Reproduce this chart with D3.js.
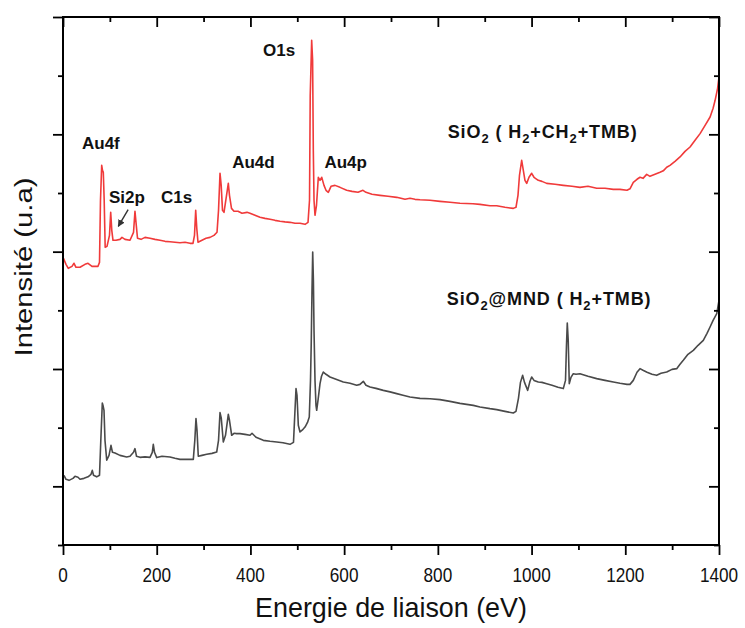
<!DOCTYPE html>
<html><head><meta charset="utf-8">
<script src="https://cdn.jsdelivr.net/npm/d3@7"></script>
<style>body{margin:0;background:#fff}</style>
</head><body><svg id="c" width="745" height="628"></svg>
<script>
// ---- data ----
const xTicks = [0, 200, 400, 600, 800, 1000, 1200, 1400];
const xMinorTicks = [100, 300, 500, 700, 900, 1100, 1300];
const yMajorTicks = [0, 1, 2, 3, 4];
const yMinorTicks = [-0.5, 0.5, 1.5, 2.5, 3.5];

const energyRed = [1,6.4,11.3,19.2,23.5,27.7,36.3,46.9,53.4,61.9,74.7,77.9,80,82.6,84.3,86,87.9,90,93.9,99.2,101.8,104.1,106.7,113.1,121.6,125.9,132.3,143,150.5,153.6,156.4,159,166.5,175,185.7,196.3,207,217.7,228.3,239,249.7,260.4,271,277.4,280.6,283.2,285.5,288.1,296.6,305.2,313.7,322.2,328.7,331.9,335.1,337.6,340.4,343.6,349,352.8,355.3,359.6,364.9,373.5,382,392.7,399.1,409.7,420.4,431.1,441.8,452.4,463.1,473.8,484.4,495.1,505.8,516.5,522.9,526.1,527.6,530.7,532.7,534.2,535.7,537.8,541,544.9,548.5,552.1,557,561.3,566.2,572,580.5,591.2,605.4,616.8,629.6,640.2,646.6,659.4,676.5,693.6,712.2,729.9,740.5,751.2,761.9,783.2,804.6,825.9,847.2,875,889.9,911.3,925.6,943.3,961,966.7,971,974.2,978.9,981.7,985.9,989.6,994.5,1000.2,1005.2,1014.3,1022.2,1032.3,1050,1067.7,1086.2,1103.3,1120.4,1139,1156.7,1174.4,1188.7,1203.6,1210,1217.1,1225,1231.4,1237.8,1245.7,1252.7,1263.4,1274.1,1281.1,1288.4,1295.4,1306.1,1316.8,1327.5,1338.2,1348.9,1359.6,1370.3,1381,1387.4,1391.7,1397,1400];
const intensityRed = [1.943,1.892,1.858,1.875,1.901,1.867,1.867,1.892,1.901,1.875,1.875,1.909,2.438,2.736,2.693,2.676,2.438,2.037,2.045,2.139,2.335,2.182,2.097,2.097,2.105,2.122,2.105,2.097,2.165,2.344,2.224,2.114,2.105,2.122,2.114,2.105,2.097,2.088,2.084,2.080,2.076,2.080,2.071,2.071,2.139,2.352,2.199,2.080,2.097,2.114,2.122,2.139,2.165,2.352,2.668,2.565,2.352,2.335,2.480,2.582,2.480,2.369,2.344,2.344,2.327,2.335,2.327,2.310,2.293,2.284,2.276,2.267,2.259,2.254,2.250,2.242,2.242,2.233,2.250,2.438,3.332,3.801,3.631,2.864,2.438,2.310,2.395,2.634,2.608,2.634,2.565,2.523,2.506,2.557,2.565,2.548,2.523,2.514,2.506,2.523,2.506,2.489,2.480,2.472,2.463,2.446,2.455,2.446,2.442,2.438,2.429,2.421,2.412,2.408,2.403,2.391,2.391,2.378,2.369,2.378,2.480,2.651,2.778,2.710,2.608,2.582,2.634,2.668,2.634,2.608,2.599,2.582,2.574,2.565,2.557,2.548,2.557,2.540,2.540,2.531,2.531,2.523,2.536,2.591,2.617,2.634,2.625,2.659,2.642,2.659,2.676,2.689,2.719,2.736,2.770,2.807,2.855,2.892,2.949,3.006,3.077,3.148,3.222,3.290,3.392,3.488];

const energyGray = [2.1,6.4,12.8,21.3,25.6,32,36.3,44.8,53.4,59.8,62.5,65.1,71.9,77.9,80.7,83.9,85.8,87.5,89.6,93.3,98.2,102.4,105.6,111,121.6,135.9,143,150.5,153.6,156.9,164.3,175,185.7,190.6,192.7,195.3,200,211.3,228.3,239,249.7,262.5,278.1,281.3,283.8,286,288.7,296.6,306.7,318,328,331.9,335.1,337.8,342.1,346.8,352.8,355.3,360,364.9,370.7,377.7,388.4,399.1,403.4,411.9,427.5,441.8,456.1,469.5,484.4,491.9,495.1,497.3,499.4,502.2,505.8,512.2,516.5,521.8,525.6,528.2,529.7,531.4,532.9,534.4,535.7,537.8,539.9,541.4,544.2,548.5,551.7,555.5,561.3,569.8,582.6,598.2,612.5,626.8,633.8,640.9,646.6,655.2,668,683.6,697.9,712.2,725.6,740.5,761.9,783.2,804.6,825.9,847.2,875.6,889.9,911.3,925.6,943.3,961,966.7,972,976.3,981,984.9,991.7,996.6,1000.2,1005.2,1014.3,1022.2,1032.3,1043.6,1056.4,1067.7,1072.4,1074.5,1076.2,1078.2,1080.5,1084.1,1089,1094.8,1103.3,1120.4,1139,1156.7,1174.4,1188.7,1203.6,1210,1217.1,1225,1231.4,1237.8,1246.4,1257,1267,1276.2,1288.4,1299.7,1309.7,1316.8,1323.8,1333.8,1345.2,1355.3,1366.5,1374.4,1380.9,1387.4,1395.2,1400];
const intensityGray = [0.094,0.060,0.051,0.068,0.085,0.077,0.060,0.068,0.081,0.102,0.136,0.094,0.081,0.094,0.392,0.710,0.682,0.648,0.392,0.222,0.264,0.349,0.290,0.284,0.264,0.250,0.256,0.290,0.321,0.256,0.247,0.251,0.247,0.290,0.358,0.290,0.245,0.256,0.250,0.239,0.230,0.230,0.230,0.392,0.577,0.477,0.256,0.264,0.273,0.281,0.292,0.392,0.628,0.580,0.378,0.435,0.614,0.563,0.435,0.452,0.449,0.449,0.443,0.435,0.452,0.418,0.392,0.384,0.378,0.371,0.358,0.375,0.648,0.833,0.776,0.520,0.463,0.486,0.505,0.545,0.591,0.903,1.202,1.670,1.997,1.756,1.330,0.903,0.690,0.648,0.733,0.875,0.938,0.974,0.955,0.932,0.912,0.889,0.878,0.861,0.869,0.895,0.861,0.846,0.835,0.818,0.805,0.790,0.776,0.761,0.750,0.746,0.739,0.724,0.707,0.690,0.676,0.662,0.654,0.639,0.625,0.639,0.750,0.886,0.946,0.886,0.818,0.895,0.932,0.903,0.889,0.886,0.875,0.861,0.844,0.833,0.903,1.202,1.392,1.244,0.875,0.929,0.960,0.955,0.960,0.938,0.918,0.903,0.889,0.878,0.869,0.869,0.903,0.972,1.003,0.989,0.972,0.955,0.946,0.963,0.974,0.997,1.003,1.040,1.074,1.125,1.159,1.202,1.244,1.304,1.358,1.415,1.472,1.585];

// peak labels: [text, energy, intensity] (anchor = left/baseline)
const peakLabels = [
  ["Au4f", 40.5, 2.879],
  ["Si2p", 98, 2.419],
  ["C1s", 209, 2.419],
  ["Au4d", 361, 2.709],
  ["O1s", 427, 3.665],
  ["Au4p", 558, 2.709]
];
const sampleLabels = [
  {parts: [["SiO",0],["2",1],[" ( H",0],["2",1],["+CH",0],["2",1],["+TMB)",0]], e: 821, v: 2.966},
  {parts: [["SiO",0],["2",1],["@MND ( H",0],["2",1],["+TMB)",0]], e: 819, v: 1.543}
];
const xTitle = "Energie de liaison (eV)";
const yTitle = "Intensité (u.a)";

// ---- layout ----
const W = 745, H = 628;
const L = 63, R = 719, T = 17, B = 545;
const svg = d3.select("#c");
const x = d3.scaleLinear().domain([0, 1400]).range([L, R]);
const y = d3.scaleLinear().domain([-0.5, 4]).range([B, T]);

const line = d3.line().x(d => x(d[0])).y(d => y(d[1]));
svg.append("path").datum(d3.zip(energyGray, intensityGray))
  .attr("d", line).attr("fill", "none").attr("stroke", "#4a4a4a").attr("stroke-width", 1.6).attr("stroke-linejoin", "round");
svg.append("path").datum(d3.zip(energyRed, intensityRed))
  .attr("d", line).attr("fill", "none").attr("stroke", "#f03a3a").attr("stroke-width", 1.6).attr("stroke-linejoin", "round");

// axes
function styleAxis(g) {
  g.select(".domain").remove();
  g.selectAll("line").attr("stroke", "#000").attr("stroke-width", 1.8);
  g.selectAll("text").remove();
}
svg.append("g").attr("transform", `translate(0,${B})`).call(d3.axisBottom(x).tickValues(xTicks).tickSize(10)).call(styleAxis);
svg.append("g").attr("transform", `translate(0,${B})`).call(d3.axisBottom(x).tickValues(xMinorTicks).tickSize(5)).call(styleAxis);
svg.append("g").attr("transform", `translate(0,${T})`).call(d3.axisBottom(x).tickValues(xTicks).tickSize(10)).call(styleAxis);
svg.append("g").attr("transform", `translate(0,${T})`).call(d3.axisBottom(x).tickValues(xMinorTicks).tickSize(5)).call(styleAxis);
svg.append("g").attr("transform", `translate(${L},0)`).call(d3.axisLeft(y).tickValues(yMajorTicks).tickSize(10)).call(styleAxis);
svg.append("g").attr("transform", `translate(${L},0)`).call(d3.axisLeft(y).tickValues(yMinorTicks).tickSize(5)).call(styleAxis);
svg.append("g").attr("transform", `translate(${R},0)`).call(d3.axisLeft(y).tickValues(yMajorTicks).tickSize(10)).call(styleAxis);
svg.append("g").attr("transform", `translate(${R},0)`).call(d3.axisLeft(y).tickValues(yMinorTicks).tickSize(5)).call(styleAxis);
svg.append("rect").attr("x", L).attr("y", T).attr("width", R - L).attr("height", B - T)
  .attr("fill", "none").attr("stroke", "#000").attr("stroke-width", 2);

// tick labels
svg.append("g").selectAll("text").data(xTicks).join("text")
  .attr("transform", d => `translate(${x(d)},${B + 37}) scale(0.86,1)`)
  .attr("text-anchor", "middle")
  .attr("font-family", "Liberation Sans, Arial, sans-serif").attr("font-size", 20).attr("fill", "#111")
  .text(d => d);

// titles
svg.append("text").attr("transform", `translate(${(L + R) / 2 + 0},${617}) scale(0.96,1)`)
  .attr("text-anchor", "middle").attr("font-family", "Liberation Sans, Arial, sans-serif")
  .attr("font-size", 28).attr("fill", "#111").text(xTitle);
svg.append("text").attr("transform", `translate(${32},${267}) rotate(-90) scale(1.22,1)`)
  .attr("text-anchor", "middle").attr("font-family", "Liberation Sans, Arial, sans-serif")
  .attr("font-size", 24).attr("fill", "#111").text(yTitle);

// peak labels
svg.append("g").selectAll("text").data(peakLabels).join("text")
  .attr("x", d => x(d[1])).attr("y", d => y(d[2]))
  .attr("font-family", "Liberation Sans, Arial, sans-serif").attr("font-weight", "bold")
  .attr("font-size", 17).attr("fill", "#111").text(d => d[0]);

sampleLabels.forEach(s => {
  const t = svg.append("text").attr("x", x(s.e)).attr("y", y(s.v))
    .attr("font-family", "Liberation Sans, Arial, sans-serif").attr("font-weight", "bold")
    .attr("font-size", 18).attr("letter-spacing", 0.9).attr("fill", "#111");
  let sub = 0;
  s.parts.forEach(p => {
    const dy = p[1] === 1 ? 5 : (sub ? -5 : 0);
    t.append("tspan").attr("dy", dy).attr("font-size", p[1] ? 13 : 18).text(p[0]);
    sub = p[1];
  });
});

// arrow from Si2p label
const arrowStart = [139, 2.359], arrowEnd = [118, 2.216];
svg.append("defs").append("marker").attr("id", "ah").attr("viewBox", "0 0 10 10")
  .attr("refX", 9).attr("refY", 5).attr("markerWidth", 7).attr("markerHeight", 7)
  .attr("markerUnits", "userSpaceOnUse").attr("orient", "auto")
  .append("path").attr("d", "M0,0 L10,5 L0,10 z").attr("fill", "#333");
svg.append("line").attr("x1", x(arrowStart[0])).attr("y1", y(arrowStart[1]))
  .attr("x2", x(arrowEnd[0])).attr("y2", y(arrowEnd[1]))
  .attr("stroke", "#333").attr("stroke-width", 1.4).attr("marker-end", "url(#ah)");
</script></body></html>
